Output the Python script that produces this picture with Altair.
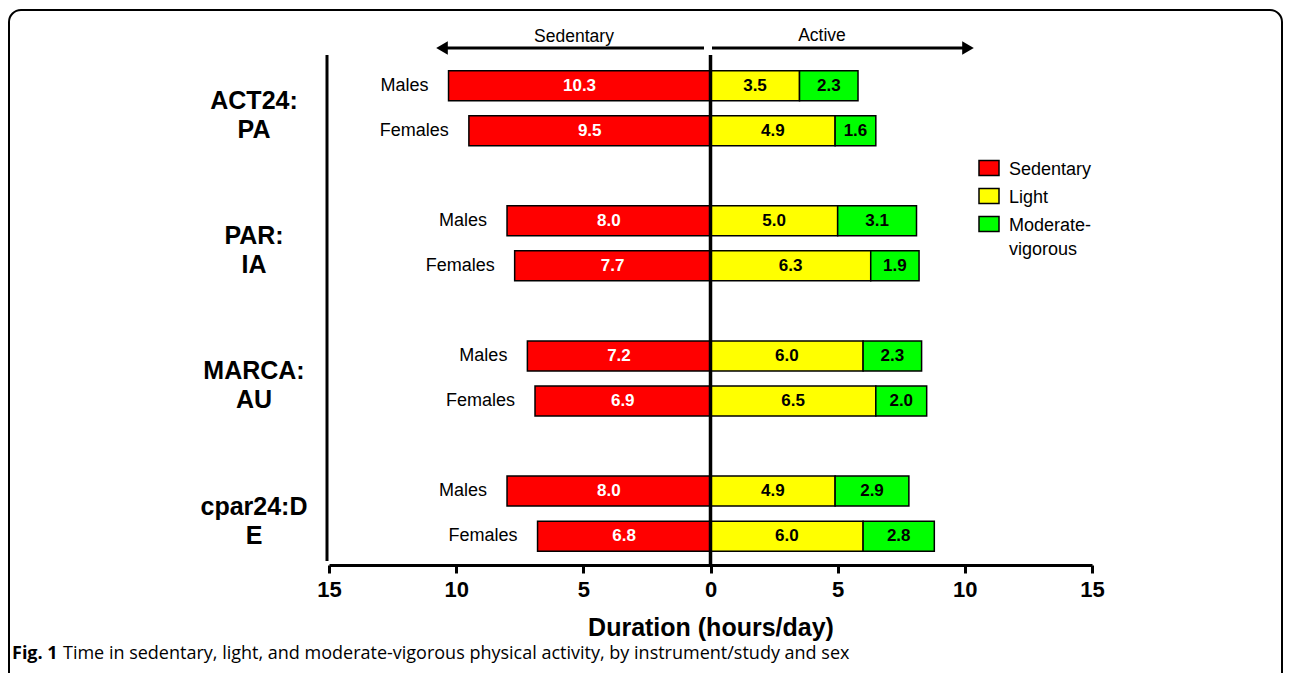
import altair as alt
import pandas as pd

# ---------------- data ----------------
studies = ["ACT24:\nPA", "PAR:\nIA", "MARCA:\nAU", "cpar24:D\nE"]
sexes = ["Males", "Females"]
categories = ["Sedentary", "Light", "Moderate-vigorous"]
colors = ["#FF0000", "#FFFF00", "#00FF00"]
sedentary = [10.3, 9.5, 8.0, 7.7, 7.2, 6.9, 8.0, 6.8]
light = [3.5, 4.9, 5.0, 6.3, 6.0, 6.5, 4.9, 6.0]
mvpa = [2.3, 1.6, 3.1, 1.9, 2.3, 2.0, 2.9, 2.8]
x_ticks = [-15, -10, -5, 0, 5, 10, 15]
caption_bold = "Fig. 1"
caption_text = "Time in sedentary, light, and moderate-vigorous physical activity, by instrument/study and sex"

FONT = "Liberation Sans, Arial, Helvetica, sans-serif"
CAP_FONT = "Open Sans, Noto Sans, sans-serif"

# ---------------- tables ----------------
rows = []
for i in range(len(sedentary)):
    g, s = divmod(i, 2)
    k = 3 * g + s
    segs = [
        (categories[0], -sedentary[i], 0.0, sedentary[i]),
        (categories[1], 0.0, light[i], light[i]),
        (categories[2], light[i], light[i] + mvpa[i], mvpa[i]),
    ]
    for cat, a, b, v in segs:
        rows.append(dict(study=studies[g], sex=sexes[s], row=k, cat=cat,
                         start=a, end=b, value=v, mid=(a + b) / 2,
                         label=f"{v:.1f}"))
bars = pd.DataFrame(rows)
groups = pd.DataFrame({"study": studies,
                       "center": [3 * g + 0.5 for g in range(len(studies))]})
one = alt.Data(values=[{"a": 1}])

yscale = alt.Scale(domain=[-0.68, 10.64], reverse=True, nice=False,
                   zero=False, padding=0)
xscale = alt.Scale(domain=[-15, 15], nice=False, zero=False, padding=0)

base = alt.Chart(bars)

bar_layer = base.mark_bar(orient="horizontal", size=30, stroke="black",
                          strokeWidth=1.5).encode(
    x=alt.X("start:Q", scale=xscale,
            axis=alt.Axis(values=x_ticks, labelExpr="abs(datum.value)",
                          title="Duration (hours/day)", grid=False,
                          domainColor="black", domainWidth=3,
                          tickColor="black", tickWidth=3, tickSize=8,
                          labelFont=FONT, labelFontSize=22,
                          labelFontWeight="bold", labelColor="black",
                          labelPadding=6, labelFlush=False,
                          titleFont=FONT, titleFontSize=25,
                          titleFontWeight="bold", titleColor="black",
                          titlePadding=15)),
    x2="end:Q",
    y=alt.Y("row:Q", scale=yscale, axis=None),
    color=alt.Color("cat:N", scale=alt.Scale(domain=categories, range=colors),
                    legend=None),
)

value_labels = base.mark_text(font=FONT, fontSize=17, fontWeight="bold",
                              baseline="middle", align="center").encode(
    x=alt.X("mid:Q", scale=xscale),
    y=alt.Y("row:Q", scale=yscale, axis=None),
    text="label:N",
    color=alt.when(alt.datum.cat == "Sedentary").then(alt.value("white"))
             .otherwise(alt.value("black")),
)

sex_labels = base.transform_filter(alt.datum.cat == "Sedentary").mark_text(
    font=FONT, fontSize=18, align="right", baseline="middle", dx=-20,
    color="black").encode(
    x=alt.X("start:Q", scale=xscale),
    y=alt.Y("row:Q", scale=yscale, axis=None),
    text="sex:N",
)

group_labels = alt.Chart(groups).mark_text(
    font=FONT, fontSize=25, fontWeight="bold", align="center",
    baseline="alphabetic", lineBreak="\n", lineHeight=29, dy=1,
    color="black").encode(
    x=alt.value(-75),
    y=alt.Y("center:Q", scale=yscale, axis=None),
    text="study:N",
)

zero_line = alt.Chart(one).mark_rule(color="black", strokeWidth=3.5).encode(
    x=alt.datum(0, scale=xscale), y=alt.value(0), y2=alt.value(510))

left_line = alt.Chart(one).mark_rule(color="black", strokeWidth=3).encode(
    x=alt.value(-2), y=alt.value(0), y2=alt.value(506))

# arrows
arrow_l = alt.Chart(one).mark_rule(color="black", strokeWidth=3).encode(
    x=alt.value(116), x2=alt.value(375), y=alt.value(-7))
arrow_r = alt.Chart(one).mark_rule(color="black", strokeWidth=3).encode(
    x=alt.value(383), x2=alt.value(636), y=alt.value(-7))
head_l = alt.Chart(one).mark_point(shape="triangle-left", filled=True,
                                   size=180, color="black", opacity=1).encode(
    x=alt.value(113), y=alt.value(-7))
head_r = alt.Chart(one).mark_point(shape="triangle-right", filled=True,
                                   size=180, color="black", opacity=1).encode(
    x=alt.value(639), y=alt.value(-7))
txt_sed = alt.Chart(one).mark_text(font=FONT, fontSize=17.5, baseline="middle",
                                   align="center", color="black",
                                   text="Sedentary").encode(
    x=alt.value(245), y=alt.value(-18))
txt_act = alt.Chart(one).mark_text(font=FONT, fontSize=17.5, baseline="middle",
                                   align="center", color="black",
                                   text="Active").encode(
    x=alt.value(493), y=alt.value(-19))

# legend (manual)
legend_layers = []
for j, (cat, col) in enumerate(zip(categories, colors)):
    cy = 113 + 28 * j
    legend_layers.append(
        alt.Chart(one).mark_rect(fill=col, stroke="black", strokeWidth=1.5).encode(
            x=alt.value(650), x2=alt.value(670),
            y=alt.value(cy - 7.5), y2=alt.value(cy + 7.5)))
    legend_layers.append(
        alt.Chart(one).mark_text(font=FONT, fontSize=18, align="left",
                                 baseline="alphabetic", lineBreak="\n",
                                 lineHeight=24, color="black",
                                 text=cat.replace("-", "-\n")).encode(
            x=alt.value(680), y=alt.value(cy + 6.5)))

# frame and caption
frame = alt.Chart(one).mark_rect(fillOpacity=0, stroke="black", strokeWidth=2,
                                 cornerRadius=12).encode(
    x=alt.value(-320), x2=alt.value(953), y=alt.value(-45), y2=alt.value(640))
cap1 = alt.Chart(one).mark_text(font=CAP_FONT, fontSize=18, fontWeight="bold",
                                align="left", baseline="middle", color="black",
                                text=caption_bold).encode(
    x=alt.value(-317), y=alt.value(599))
cap2 = alt.Chart(one).mark_text(font=CAP_FONT, fontSize=18, align="left",
                                baseline="middle", color="black",
                                text=caption_text).encode(
    x=alt.value(-266), y=alt.value(599))

chart = alt.layer(
    frame, bar_layer, value_labels, sex_labels, group_labels, zero_line,
    left_line, arrow_l, arrow_r, head_l, head_r, txt_sed, txt_act,
    *legend_layers, cap1, cap2,
).properties(
    width=763, height=510,
    padding={"left": 321, "top": 47, "right": 192, "bottom": 108},
    autosize=alt.AutoSizeParams(type="none"),
    background="white",
).configure_view(strokeWidth=0)

chart.save("out.html", embed_options={"renderer": "svg", "actions": False})
